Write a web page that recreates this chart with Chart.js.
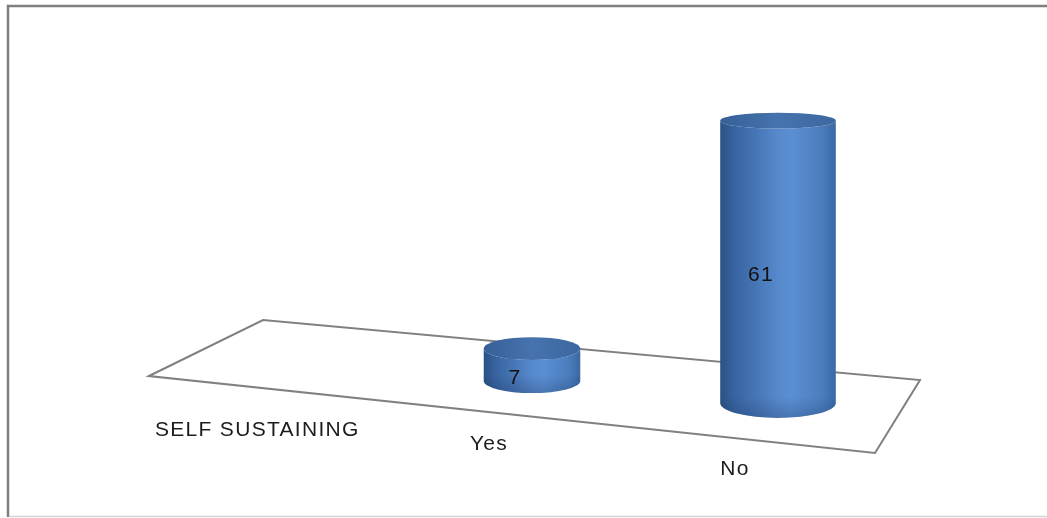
<!DOCTYPE html>
<html>
<head>
<meta charset="utf-8">
<script src="https://cdn.jsdelivr.net/npm/chart.js@4"></script>
<style>
  html, body { margin: 0; padding: 0; background: #fff; }
  canvas { display: block; }
</style>
</head>
<body>
<canvas id="chart" width="1047" height="518"></canvas>
<script>
'use strict';

// data
const categories = ['Yes', 'No'];
const counts = [7, 61];
const seriesName = 'SELF SUSTAINING';
const axisMax = 70;

const FONT = '21px "Liberation Sans", Arial, sans-serif';

// fake 3d: floor slope and perspective growth along x
const baseSlope = 0.0894;
const widthGrow = 0.00073;

const cylinders = {
  id: 'cylinders',
  afterDatasetsDraw(chart) {
    const ctx = chart.ctx;
    const area = chart.chartArea;
    const y = chart.scales.y;
    const meta = chart.getDatasetMeta(0);
    const midX = (area.left + area.right) / 2;
    const y0 = y.getPixelForValue(0);
    const baseAt = x => y0 + (x - midX) * baseSlope;

    ctx.save();

    // outer frame
    ctx.lineWidth = 2.5;
    ctx.strokeStyle = '#7f7f7f';
    ctx.beginPath();
    ctx.moveTo(8, 517);
    ctx.lineTo(8, 6);
    ctx.lineTo(1050, 6);
    ctx.stroke();
    ctx.strokeStyle = '#d4d4d4';
    ctx.lineWidth = 1.5;
    ctx.beginPath();
    ctx.moveTo(9, 516.5);
    ctx.lineTo(1050, 516.5);
    ctx.stroke();

    // floor
    ctx.strokeStyle = '#808080';
    ctx.lineWidth = 2;
    ctx.beginPath();
    ctx.moveTo(area.left - 260, y0 - 16);
    ctx.lineTo(area.left - 146, y0 - 72);
    ctx.lineTo(area.right + 19, y0 - 12);
    ctx.lineTo(area.right - 26, y0 + 61);
    ctx.closePath();
    ctx.fillStyle = '#fff';
    ctx.fill();
    ctx.stroke();

    // series name on the depth axis
    ctx.fillStyle = '#1c1c1c';
    ctx.font = FONT;
    ctx.letterSpacing = '1.3px';
    ctx.textAlign = 'left';
    ctx.textBaseline = 'middle';
    ctx.fillText(seriesName, area.left - 254, y0 + 38);

    meta.data.forEach((bar, i) => {
      const cx = bar.x;
      const rx = bar.width / 2 * (1 + (cx - midX) * widthGrow);
      const base = baseAt(cx);
      const top = base - (y0 - y.getPixelForValue(counts[i]));
      const ryTop = rx * (0.086 + 0.00043 * top);
      const ryBot = rx * (0.086 + 0.00043 * base);

      // side
      const g = ctx.createLinearGradient(cx - rx, 0, cx + rx, 0);
      g.addColorStop(0, '#2b5283');
      g.addColorStop(0.12, '#3763a0');
      g.addColorStop(0.5, '#5689cc');
      g.addColorStop(0.62, '#5b8fd3');
      g.addColorStop(0.88, '#4b7dbd');
      g.addColorStop(1, '#3a68a4');
      ctx.beginPath();
      ctx.moveTo(cx - rx, top);
      ctx.lineTo(cx - rx, base);
      ctx.ellipse(cx, base, rx, ryBot, 0, Math.PI, 0, true);
      ctx.lineTo(cx + rx, top);
      ctx.ellipse(cx, top, rx, ryTop, 0, 0, Math.PI, false);
      ctx.closePath();
      ctx.fillStyle = g;
      ctx.fill();

      // soft shade at the foot
      const s = ctx.createLinearGradient(0, base - 6, 0, base + ryBot);
      s.addColorStop(0, 'rgba(20,40,80,0)');
      s.addColorStop(1, 'rgba(20,40,80,0.25)');
      ctx.beginPath();
      ctx.moveTo(cx - rx, base - 6);
      ctx.lineTo(cx - rx, base);
      ctx.ellipse(cx, base, rx, ryBot, 0, Math.PI, 0, true);
      ctx.lineTo(cx + rx, base - 6);
      ctx.closePath();
      ctx.fillStyle = s;
      ctx.fill();

      // top cap
      const t = ctx.createLinearGradient(cx - rx, 0, cx + rx, 0);
      t.addColorStop(0, '#365f97');
      t.addColorStop(0.5, '#4673ae');
      t.addColorStop(1, '#3c67a0');
      ctx.beginPath();
      ctx.ellipse(cx, top, rx, ryTop, 0, 0, Math.PI * 2);
      ctx.fillStyle = t;
      ctx.fill();

      // value label
      ctx.fillStyle = '#111';
      ctx.textAlign = 'center';
      ctx.fillText(String(counts[i]), cx - 17, (top + base) / 2 + 13);

      // category label along the front edge
      ctx.fillStyle = '#1c1c1c';
      ctx.fillText(categories[i], cx - 43, base + 63 + (i ? 3 : 0));
    });

    ctx.restore();
  }
};

new Chart(document.getElementById('chart'), {
  type: 'bar',
  data: {
    labels: categories,
    datasets: [{
      label: seriesName,
      data: counts,
      backgroundColor: 'rgba(0,0,0,0)',
      borderWidth: 0,
      categoryPercentage: 0.9,
      barPercentage: 0.479
    }]
  },
  options: {
    responsive: false,
    animation: false,
    devicePixelRatio: 1,
    layout: { padding: { left: 409, right: 146, top: 68, bottom: 126 } },
    scales: {
      x: { display: false, offset: true },
      y: { display: false, min: 0, max: axisMax }
    },
    plugins: {
      legend: { display: false },
      tooltip: { enabled: false }
    }
  },
  plugins: [cylinders]
});
</script>
</body>
</html>
